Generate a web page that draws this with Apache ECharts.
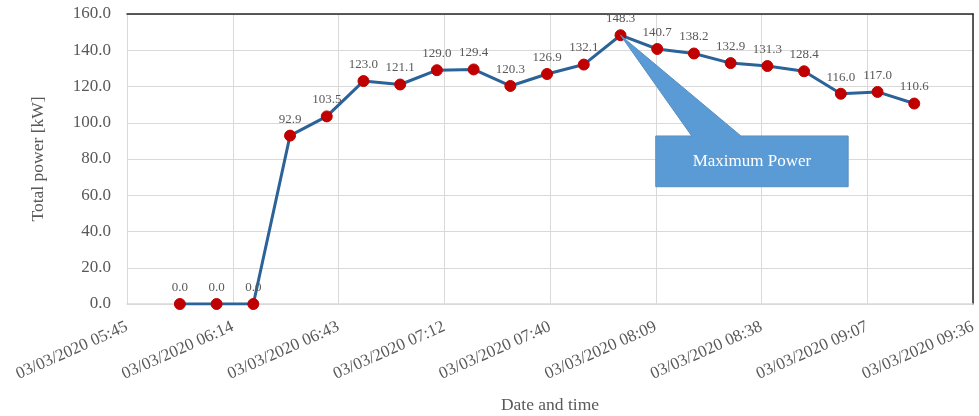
<!DOCTYPE html>
<html>
<head>
<meta charset="utf-8">
<script src="https://cdn.jsdelivr.net/npm/echarts@6/dist/echarts.min.js"></script>
<style>html,body{margin:0;padding:0;background:#fff}#c{width:979px;height:416px}</style>
</head>
<body>
<div id="c"></div>
<script>
const dateLabel = "03/03/2020";
const times = ["06:00","06:10","06:20","06:30","06:40","06:50","07:00","07:10","07:20","07:30","07:40",
               "07:50","08:00","08:10","08:20","08:30","08:40","08:50","09:00","09:10","09:20"];
const power = [0.0,0.0,0.0,92.9,103.5,123.0,121.1,129.0,129.4,120.3,126.9,
               132.1,148.3,140.7,138.2,132.9,131.3,128.4,116.0,117.0,110.6];
// x axis in seconds since midnight (Excel date axis: 0.24 d .. 0.40 d, step 0.02 d)
const xMin = 20736, xMax = 34560, xStep = 1728;
const yMin = 0, yMax = 160, yStep = 20;
const calloutText = "Maximum Power";

function toSec(t){const p=t.split(":");return (+p[0])*3600+(+p[1])*60;}
function fmt(s){const h=Math.floor(s/3600), m=Math.floor((s%3600)/60);return dateLabel+" "+String(h).padStart(2,"0")+":"+String(m).padStart(2,"0");}

const data = times.map((t,i)=>[toSec(t), power[i]]);
const font = "Liberation Serif";
const chart = echarts.init(document.getElementById("c"));
chart.setOption({
  animation:false,
  grid:{left:127,right:6,top:14,bottom:112,containLabel:false,outerBoundsMode:"none"},
  xAxis:[{
    type:"value", min:xMin, max:xMax, interval:xStep,
    name:"Date and time", nameLocation:"middle", nameGap:92,
    nameTextStyle:{fontFamily:font,fontSize:17.5,color:"#595959"},
    axisLine:{show:true,lineStyle:{color:"#d9d9d9",width:1.5}},
    axisTick:{show:false},
    axisLabel:{rotate:24,fontFamily:font,fontSize:17,color:"#595959",margin:22,formatter:v=>fmt(Math.round(v)),showMinLabel:true,showMaxLabel:true},
    splitLine:{show:true,lineStyle:{color:"#d9d9d9",width:1}}
  },{
    type:"value", position:"top", min:xMin, max:xMax, interval:xStep,
    axisLine:{show:true,onZero:false,lineStyle:{color:"#262626",width:1.5}},
    axisTick:{show:false}, axisLabel:{show:false}, splitLine:{show:false}
  }],
  yAxis:[{
    type:"value", min:yMin, max:yMax, interval:yStep,
    name:"Total power [kW]", nameLocation:"middle", nameGap:80,
    nameTextStyle:{fontFamily:font,fontSize:17.5,color:"#595959"},
    axisLine:{show:false}, axisTick:{show:false},
    axisLabel:{fontFamily:font,fontSize:17,color:"#595959",margin:16,formatter:v=>v.toFixed(1)},
    splitLine:{show:true,lineStyle:{color:"#d9d9d9",width:1}}
  },{
    type:"value", position:"right", min:yMin, max:yMax, interval:yStep,
    axisLine:{show:true,onZero:false,lineStyle:{color:"#262626",width:1.5}},
    axisTick:{show:false}, axisLabel:{show:false}, splitLine:{show:false}
  }],
  series:[{
    type:"line", data:data, xAxisIndex:0, yAxisIndex:0,
    lineStyle:{color:"#2b6399",width:3},
    symbol:"circle", symbolSize:11,
    itemStyle:{color:"#c00000",borderColor:"#c00000"},
    label:{show:true,position:"top",distance:4,fontFamily:font,fontSize:13,color:"#595959",formatter:p=>p.value[1].toFixed(1)},
    z:3
  }]
});

// callout anchored in data coordinates
const iMax = power.indexOf(Math.max(...power));
const tip = chart.convertToPixel({gridIndex:0}, data[iMax]);
const boxTL = chart.convertToPixel({gridIndex:0}, [toSec("08:09")+36, 92.7]);
const boxBR = chart.convertToPixel({gridIndex:0}, [toSec("09:02"), 64.7]);
const w1 = chart.convertToPixel({gridIndex:0}, [toSec("08:19")+24, 92.7]);
const w2 = chart.convertToPixel({gridIndex:0}, [toSec("08:32")+48, 92.7]);
const fill="#5b9bd5", stroke="#5a8ec0";
chart.setOption({graphic:[{
  type:"polygon", z:10,
  shape:{points:[[boxTL[0],boxTL[1]],[w1[0],boxTL[1]],[tip[0],tip[1]],[w2[0],boxTL[1]],[boxBR[0],boxTL[1]],[boxBR[0],boxBR[1]],[boxTL[0],boxBR[1]]]},
  style:{fill:fill,stroke:stroke,lineWidth:1}
},{
  type:"text", z:11,
  x:(boxTL[0]+boxBR[0])/2, y:(boxTL[1]+boxBR[1])/2,
  style:{text:calloutText,fill:"#fff",font:"17px 'Liberation Serif'",align:"center",verticalAlign:"middle"}
}]});
</script>
</body>
</html>
